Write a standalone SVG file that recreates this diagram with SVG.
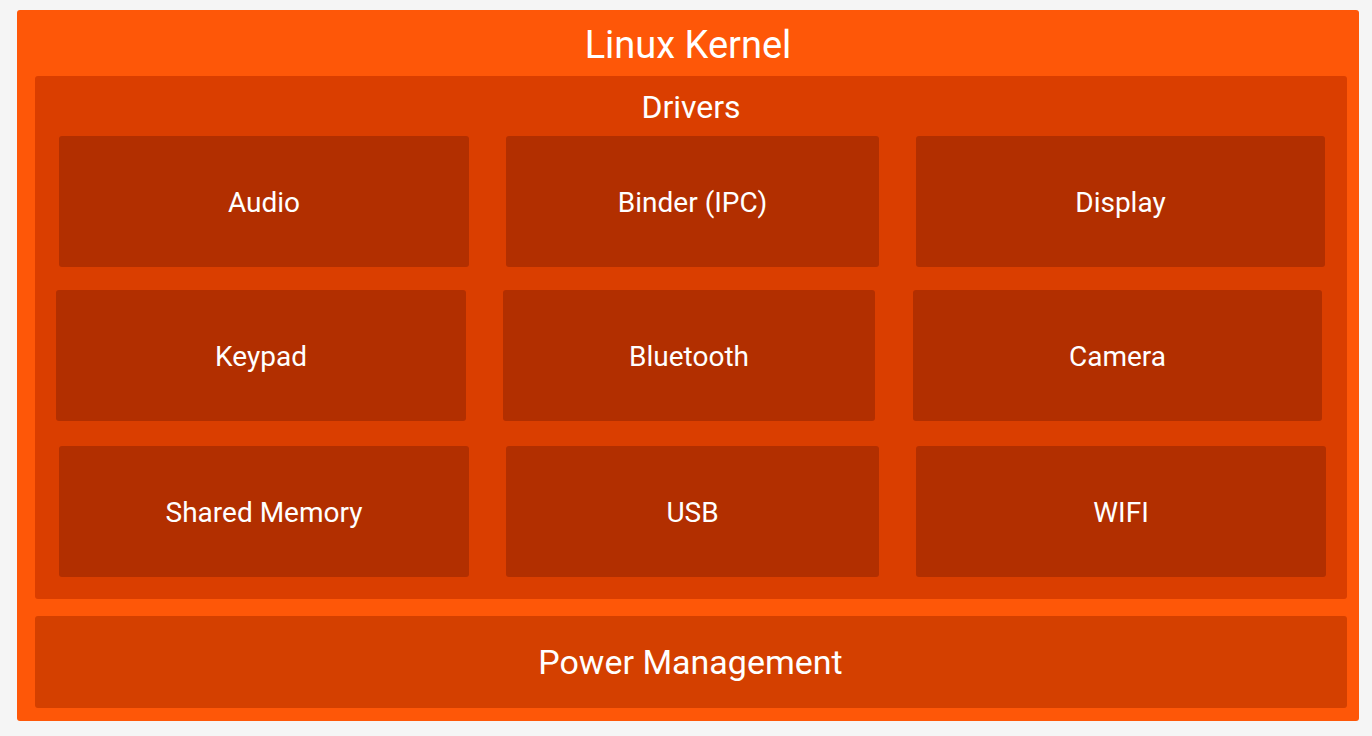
<svg xmlns="http://www.w3.org/2000/svg" width="1372" height="736" viewBox="0 0 1372 736">
<style>
.t{font-family:Roboto,"Liberation Sans",sans-serif;fill:#ffffff;text-anchor:middle}
.box{fill:#b22f00}
.lbl{font-size:28px}
</style>
<rect x="0" y="0" width="1372" height="736" fill="#f5f5f5"/>
<g id="linux-kernel">
<rect x="17" y="10" width="1342" height="711" rx="3" fill="#fe5708"/>
<text class="t" x="688" y="58" font-size="38">Linux Kernel</text>
</g>
<g id="drivers">
<rect x="35" y="76" width="1312" height="523" rx="3" fill="#da3e00"/>
<text class="t" x="691" y="118" font-size="32">Drivers</text>
</g>
<g id="audio"><rect class="box" x="59" y="136" width="410" height="131" rx="3"/><text class="t lbl" x="264" y="211.5">Audio</text></g>
<g id="binder"><rect class="box" x="506" y="136" width="373" height="131" rx="3"/><text class="t lbl" x="692.5" y="211.5">Binder (IPC)</text></g>
<g id="display"><rect class="box" x="916" y="136" width="409" height="131" rx="3"/><text class="t lbl" x="1120.5" y="211.5">Display</text></g>
<g id="keypad"><rect class="box" x="56" y="290" width="410" height="131" rx="3"/><text class="t lbl" x="261" y="365.5">Keypad</text></g>
<g id="bluetooth"><rect class="box" x="503" y="290" width="372" height="131" rx="3"/><text class="t lbl" x="689" y="365.5">Bluetooth</text></g>
<g id="camera"><rect class="box" x="913" y="290" width="409" height="131" rx="3"/><text class="t lbl" x="1117.5" y="365.5">Camera</text></g>
<g id="shared-memory"><rect class="box" x="59" y="446" width="410" height="131" rx="3"/><text class="t lbl" x="264" y="521.5">Shared Memory</text></g>
<g id="usb"><rect class="box" x="506" y="446" width="373" height="131" rx="3"/><text class="t lbl" x="692.5" y="521.5">USB</text></g>
<g id="wifi"><rect class="box" x="916" y="446" width="410" height="131" rx="3"/><text class="t lbl" x="1121" y="521.5">WIFI</text></g>
<g id="power-management">
<rect x="35" y="616" width="1312" height="92" rx="3" fill="#d44000"/>
<text class="t" x="690.5" y="674" font-size="34">Power Management</text>
</g>
<g id="connectors"/>
</svg>
